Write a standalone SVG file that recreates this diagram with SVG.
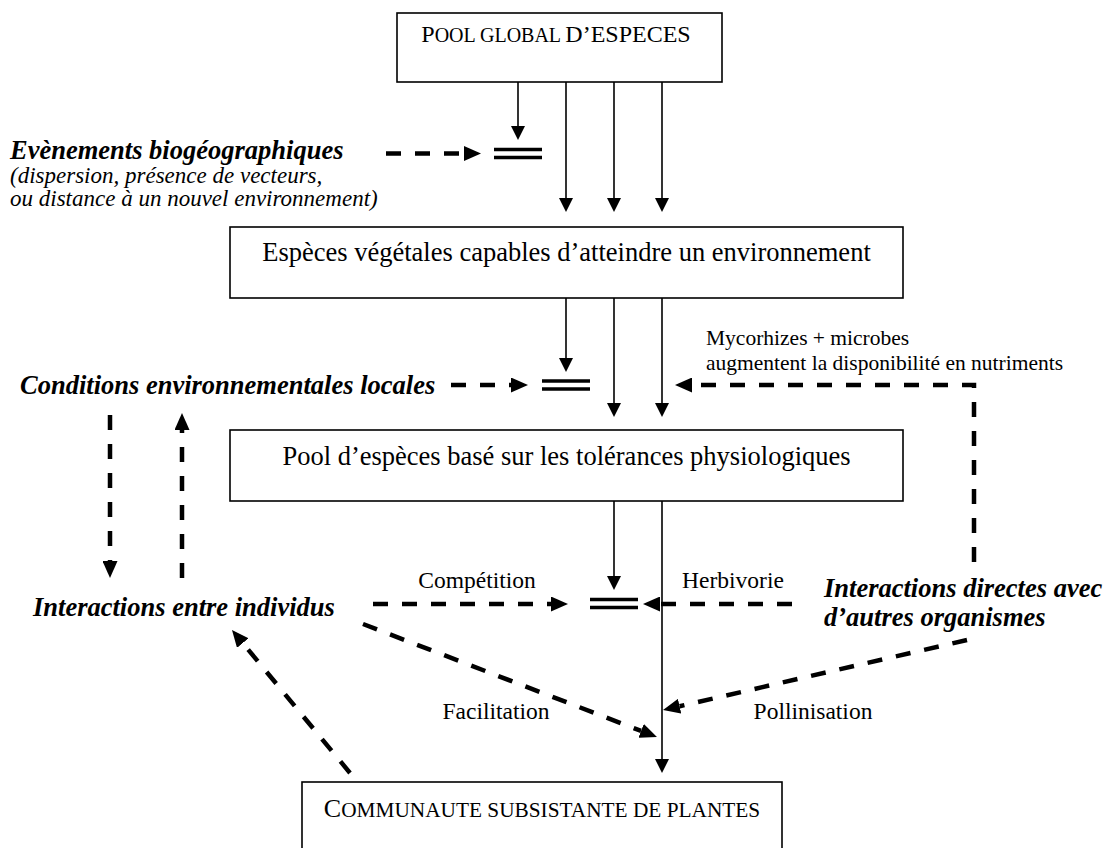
<svg xmlns="http://www.w3.org/2000/svg" width="1109" height="848" viewBox="0 0 1109 848">
<defs>
<style>
.box{fill:#fff;stroke:#000;stroke-width:1.6}
.sol{stroke:#000;stroke-width:1.6;fill:none;marker-end:url(#ah)}
.dsh{stroke:#000;stroke-width:4.5;fill:none;stroke-dasharray:15 14;marker-end:url(#dh)}
.bar{stroke:#000;stroke-width:3.5}
.t{font-family:"Liberation Serif","Times New Roman",serif;fill:#000}
.bx{font-size:26.5px}
.bi{font-size:26.5px;font-weight:bold;font-style:italic}
.it{font-size:23px;font-style:italic}
.lb{font-size:23.5px}
.sm{font-size:21.5px}
</style>
<marker id="ah" markerWidth="14" markerHeight="14" refX="0" refY="7" orient="auto" markerUnits="userSpaceOnUse"><path d="M0,0 L14,7 L0,14 z" fill="#000"/></marker>
<marker id="dh" markerWidth="17" markerHeight="15" refX="0" refY="7.5" orient="auto" markerUnits="userSpaceOnUse"><path d="M0,0 L17,7.5 L0,15 z" fill="#000"/></marker>
</defs>
<rect width="1109" height="848" fill="#fff"/>

<g id="connectors">
<line class="sol" x1="518" y1="82" x2="518" y2="126"/>
<line class="sol" x1="566" y1="82" x2="566" y2="198"/>
<line class="sol" x1="614" y1="82" x2="614" y2="198"/>
<line class="sol" x1="662" y1="82" x2="662" y2="198"/>
<line class="sol" x1="566" y1="298" x2="566" y2="358"/>
<line class="sol" x1="614" y1="298" x2="614" y2="403"/>
<line class="sol" x1="662" y1="298" x2="662" y2="403"/>
<line class="sol" x1="614" y1="501" x2="614" y2="576"/>
<line class="sol" x1="662" y1="501" x2="662" y2="759"/>
<line class="bar" x1="494" y1="149.5" x2="542" y2="149.5"/>
<line class="bar" x1="494" y1="157.5" x2="542" y2="157.5"/>
<line class="bar" x1="542" y1="381" x2="590" y2="381"/>
<line class="bar" x1="542" y1="389" x2="590" y2="389"/>
<line class="bar" x1="590" y1="599.5" x2="638" y2="599.5"/>
<line class="bar" x1="590" y1="607.5" x2="638" y2="607.5"/>
<line class="dsh" x1="386" y1="153.5" x2="464" y2="153.5"/>
<line class="dsh" x1="451" y1="385" x2="511" y2="385"/>
<polyline class="dsh" points="974,562 974,385 692,385"/>
<line class="dsh" x1="110" y1="415" x2="110" y2="561"/>
<line class="dsh" x1="182" y1="578" x2="182" y2="430"/>
<line class="dsh" x1="373" y1="604" x2="551" y2="604"/>
<line class="dsh" x1="792" y1="604" x2="660" y2="604"/>
<line class="dsh" x1="363" y1="624" x2="641.1" y2="730.9"/>
<line class="dsh" x1="967" y1="640" x2="679.6" y2="706.2"/>
<line class="dsh" x1="350" y1="773" x2="242.8" y2="643.1"/>
</g>

<g id="pool-global">
<rect class="box" x="397" y="13" width="325" height="69"/>
<text class="t" x="556" y="42" text-anchor="middle"><tspan font-size="24">P</tspan><tspan font-size="20">OOL GLOBAL </tspan><tspan font-size="24">D’ESPECES</tspan></text>
</g>

<g id="especes-capables">
<rect class="box" x="230" y="227" width="673" height="71"/>
<text class="t bx" x="566.5" y="261" text-anchor="middle">Espèces végétales capables d’atteindre un environnement</text>
</g>

<g id="pool-tolerances">
<rect class="box" x="230" y="430" width="673" height="71"/>
<text class="t bx" x="566.5" y="465" text-anchor="middle">Pool d’espèces basé sur les tolérances physiologiques</text>
</g>

<g id="communaute">
<rect class="box" x="302" y="782" width="480" height="90"/>
<text class="t" x="542" y="817" text-anchor="middle"><tspan font-size="26">C</tspan><tspan font-size="21.3">OMMUNAUTE SUBSISTANTE DE PLANTES</tspan></text>
</g>

<g id="evenements">
<text class="t bi" x="10" y="159">Evènements biogéographiques</text>
<text class="t it" x="10" y="183">(dispersion, présence de vecteurs,</text>
<text class="t it" x="10" y="206">ou distance à un nouvel environnement)</text>
</g>

<g id="conditions">
<text class="t bi" x="20" y="394">Conditions environnementales locales</text>
</g>

<g id="interactions-individus">
<text class="t bi" x="33" y="616">Interactions entre individus</text>
</g>

<g id="interactions-directes">
<text class="t bi" x="824" y="597">Interactions directes avec</text>
<text class="t bi" x="824" y="626">d’autres organismes</text>
</g>

<g id="labels">
<text class="t sm" x="706" y="345">Mycorhizes + microbes</text>
<text class="t sm" x="706" y="370">augmentent la disponibilité en nutriments</text>
<text class="t lb" x="477" y="588" text-anchor="middle">Compétition</text>
<text class="t lb" x="733" y="588" text-anchor="middle">Herbivorie</text>
<text class="t lb" x="496" y="719" text-anchor="middle">Facilitation</text>
<text class="t lb" x="813" y="719" text-anchor="middle">Pollinisation</text>
</g>
</svg>
